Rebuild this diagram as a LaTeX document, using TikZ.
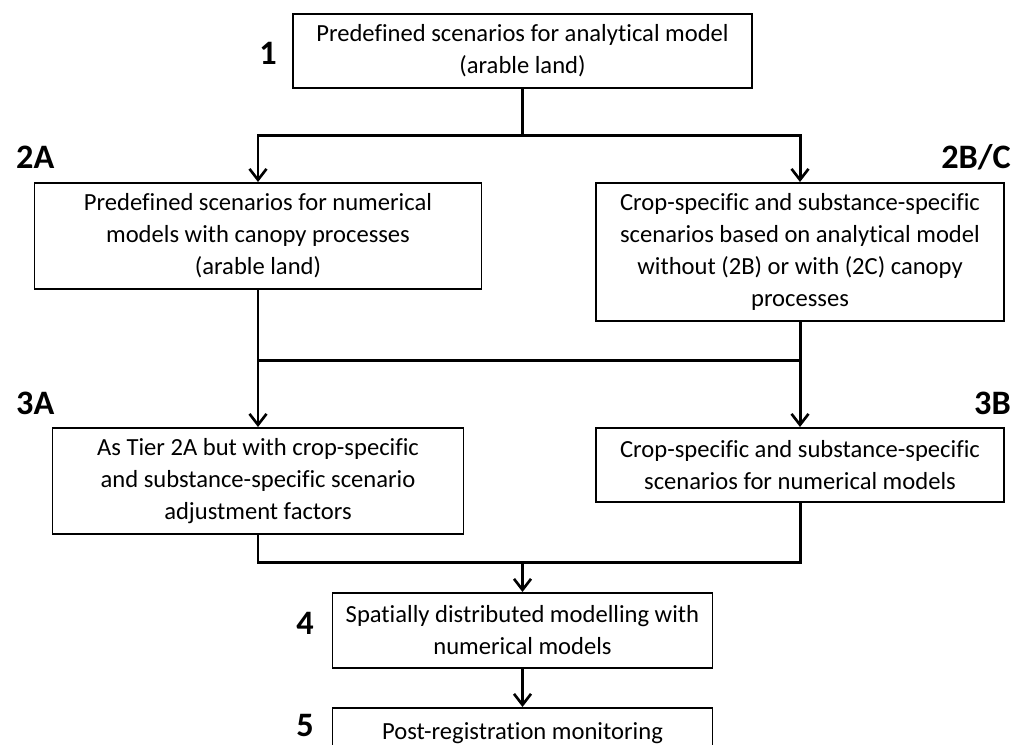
\documentclass[tikz,border=0pt]{standalone}
\usepackage{fontspec}
\setmainfont[Ligatures=NoCommon]{Carlito}
\usetikzlibrary{arrows.meta,positioning}

\begin{document}
\begin{tikzpicture}[
    block/.style={rectangle,draw,line width=1.1pt,align=center,inner sep=0.1cm,
                  font=\fontsize{14}{18.2}\selectfont},
    tier/.style={font=\fontsize{19.5}{22}\selectfont\bfseries},
    link/.style={line width=1.7pt},
    arrow/.style={link,-{Straight Barb[length=0.22cm,width=0.34cm,line width=1.5pt]}}
]
\clip (0,0) rectangle (20.36,-14.88);

% === Tier 1 ===
\node[block,anchor=north,minimum width=9.18cm,minimum height=1.48cm] (t1) at (10.45,-0.26)
    {Predefined scenarios for analytical model\\(arable land)};
\node[tier] (l1) at (5.36,-1.06) {1};

% === Tier 2 ===
\node[block,anchor=north,minimum width=8.94cm,minimum height=2.12cm] (t2a) at (5.16,-3.64)
    {Predefined scenarios for numerical\\models with canopy processes\\(arable land)};
\node[block,anchor=north,minimum width=8.16cm,minimum height=2.76cm] (t2bc) at (16.0,-3.64)
    {Crop-specific and substance-specific\\scenarios based on analytical model\\without (2B) or with (2C) canopy\\processes};
\node[tier,anchor=west] (l2a) at (0.2,-3.14) {2A};
\node[tier,anchor=east] (l2bc) at (20.34,-3.14) {2B/C};

% === Tier 3 ===
\node[block,anchor=north,minimum width=8.22cm,minimum height=2.12cm] (t3a) at (5.16,-8.54)
    {As Tier 2A but with crop-specific\\and substance-specific scenario\\adjustment factors};
\node[block,anchor=north,minimum width=8.16cm,minimum height=1.48cm] (t3b) at (16.0,-8.54)
    {Crop-specific and substance-specific\\scenarios for numerical models};
\node[tier,anchor=west] (l3a) at (0.2,-8.06) {3A};
\node[tier,anchor=east] (l3b) at (20.34,-8.06) {3B};

% === Tier 4 and 5 ===
\node[block,anchor=north,minimum width=7.6cm,minimum height=1.5cm] (t4) at (10.45,-11.84)
    {Spatially distributed modelling with\\numerical models};
\node[block,anchor=north,minimum width=7.6cm,minimum height=1.0cm] (t5) at (10.45,-14.14)
    {Post-registration monitoring};
\node[tier] (l4) at (6.1,-12.46) {4};
\node[tier] (l5) at (6.1,-14.5) {5};

% === Connectors ===
\coordinate (split) at (10.45,-2.7);
\draw[link] (t1.south) -- (split);
\draw[arrow] (split) -| (t2a.north);
\draw[arrow] (split) -| (t2bc.north);

\coordinate (join) at (10.45,-7.2);
\draw[link] (t2a.south) |- (join) -| (t2bc.south);
\draw[arrow] (t2a.south |- join) -- (t3a.north);
\draw[arrow] (t2bc.south |- join) -- (t3b.north);

\coordinate (merge) at (10.45,-11.24);
\draw[link] (t3a.south) |- (merge) -| (t3b.south);
\draw[arrow] (merge) -- (t4.north);
\draw[arrow] (t4.south) -- (t5.north);

\end{tikzpicture}
\end{document}
